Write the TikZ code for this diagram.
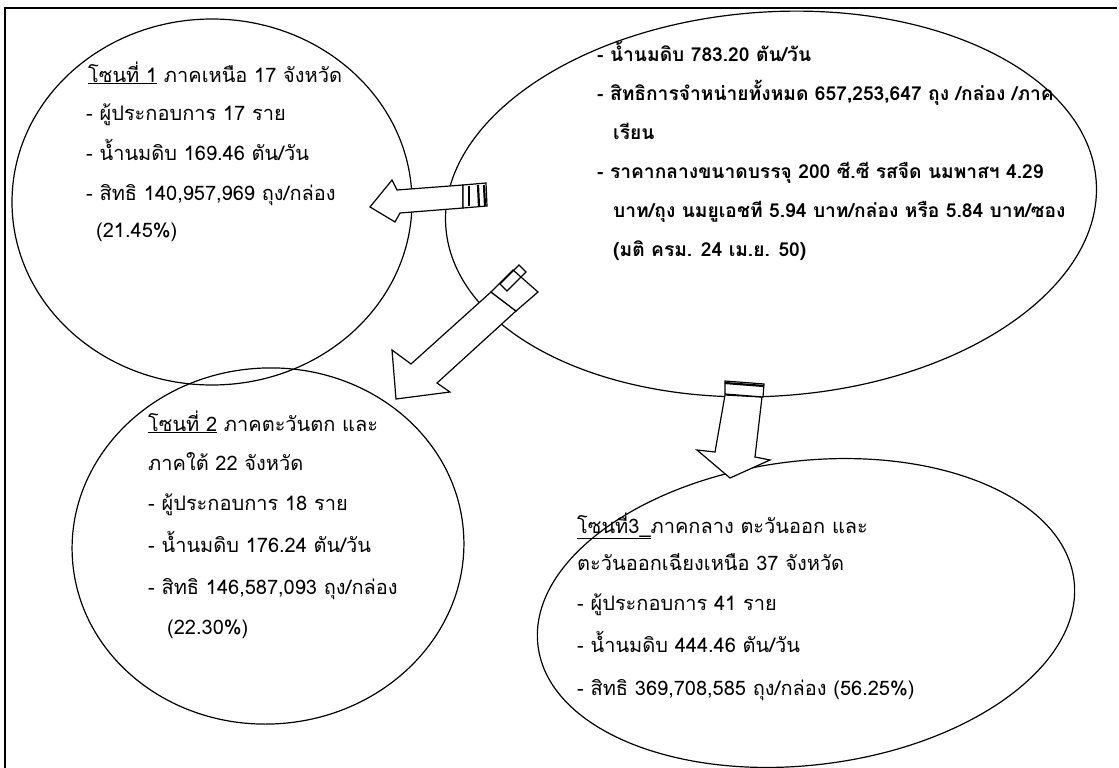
\documentclass[tikz,border=0pt]{standalone}
\usepackage{fontspec}
\newfontfamily\thai[Script=Thai]{Loma}
\usetikzlibrary{shapes.geometric}
\begin{document}
\begin{tikzpicture}[x=1pt,y=-1pt,
  zone/.style={draw, line width=1.2pt, ellipse, inner sep=0pt},
  ln/.style={anchor=base west, inner sep=0pt, font=\thai\fontsize{20}{22}\selectfont},
  bln/.style={ln, font=\thai\bfseries\fontsize{19.2}{21}\selectfont},
  blk/.style={draw, line width=1.2pt, fill=white, line join=miter},
  capbar/.style={draw, line width=2.2pt}
]
\useasboundingbox (0,0) rectangle (1119,768);
% frame
\coordinate (fb) at (5,768);
\coordinate (ftl) at (5,8);
\coordinate (ftr) at (1117,8);
\draw[line width=1.5pt] (fb) -- (ftl) -- (ftr);

% ellipses
\node[zone, minimum width=652pt, minimum height=384pt, rotate=4] (top) at (771,204) {};
\node[zone, minimum width=400pt, minimum height=366pt] (z1) at (212,202) {};
\node[zone, minimum width=392pt, minimum height=356pt, rotate=4] (z2) at (268,546) {};
\node[zone, minimum width=540pt, minimum height=304pt, rotate=7] (z3) at (806,613) {};

% arrow 1 (to zone 1)
\draw[blk] (463,185) -- (397,190) -- (392,180) -- (370,207) -- (395,222) -- (400,213) -- (463,208) -- cycle;
\draw[blk] (463,185) -- (486,183) -- (487,206) -- (463,208) -- cycle;
\draw[capbar] (469,186) -- (469,206);
\draw[capbar] (478,185) -- (479,206);
\draw[capbar] (484,185) -- (485,206);

% arrow 2 (to zone 2)
\draw[blk] (491,292) -- (411,364) -- (392,350) -- (396,399) -- (450,392) -- (437,383) -- (516,311) -- cycle;
\draw[blk] (491,292) -- (513,270) -- (538,292) -- (516,311) -- cycle;
\draw[line width=1.2pt] (500,284) -- (519,265) -- (526,272) -- (507,291) -- cycle;

% arrow 3 (to zone 3)
\draw[blk] (725,395) -- (715,452) -- (697,450) -- (730,478) -- (770,460) -- (755,457) -- (762,397) -- cycle;
\draw[blk] (725,381) -- (764,384) -- (763,397) -- (725,394) -- cycle;
\draw[capbar] (725,383) -- (764,386);

% top-right texts
\node[bln] (t1) at (597,62) {- น้ำนมดิบ 783.20 ตัน/วัน};
\node[bln] (t2) at (597,100) {- สิทธิการจำหน่ายทั้งหมด 657,253,647 ถุง /กล่อง /ภาค};
\node[bln] (t3) at (613,139) {เรียน};
\node[bln] (t4) at (597,178) {- ราคากลางขนาดบรรจุ 200 ซี.ซี รสจืด นมพาสฯ 4.29};
\node[bln] (t5) at (613,217) {บาท/ถุง นมยูเอชที 5.94 บาท/กล่อง หรือ 5.84 บาท/ซอง};
\node[bln] (t6) at (613,256) {(มติ ครม. 24 เม.ย. 50)};

% zone 1 texts
\node[ln] (a1) at (88,82) {\underline{โซนที่ 1} ภาคเหนือ 17 จังหวัด};
\node[ln] (a2) at (86,120) {- ผู้ประกอบการ 17 ราย};
\node[ln] (a3) at (86,160) {- น้ำนมดิบ 169.46 ตัน/วัน};
\node[ln] (a4) at (86,200) {- สิทธิ 140,957,969 ถุง/กล่อง};
\node[ln] (a5) at (96,237) {(21.45\%)};

% zone 2 texts
\node[ln] (b1) at (148,431) {\underline{โซนที่ 2} ภาคตะวันตก และ};
\node[ln] (b2) at (148,470) {ภาคใต้ 22 จังหวัด};
\node[ln] (b3) at (148,510) {- ผู้ประกอบการ 18 ราย};
\node[ln] (b4) at (148,552) {- น้ำนมดิบ 176.24 ตัน/วัน};
\node[ln] (b5) at (148,594) {- สิทธิ 146,587,093 ถุง/กล่อง};
\node[ln] (b6) at (167,634) {(22.30\%)};

% zone 3 texts
\node[ln] (c1) at (577,533) {\underline{โซนที่3\_}ภาคกลาง ตะวันออก และ};
\node[ln] (c2) at (577,570) {ตะวันออกเฉียงเหนือ 37 จังหวัด};
\node[ln] (c3) at (577,610) {- ผู้ประกอบการ 41 ราย};
\node[ln] (c4) at (577,652) {- น้ำนมดิบ 444.46 ตัน/วัน};
\node[ln] (c5) at (577,695) {- สิทธิ 369,708,585 ถุง/กล่อง (56.25\%)};
\end{tikzpicture}
\end{document}
